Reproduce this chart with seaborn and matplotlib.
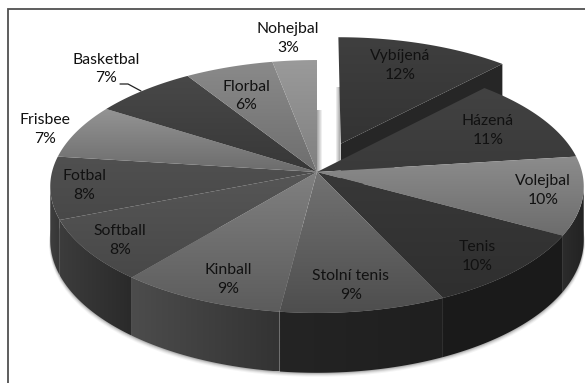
import numpy as np
import matplotlib
matplotlib.use("Agg")
import matplotlib.pyplot as plt
from matplotlib.path import Path
from matplotlib.patches import PathPatch
from matplotlib.colors import to_rgb
import seaborn as sns

# --- data ---
sports = ["Vybíjená", "Házená", "Volejbal", "Tenis", "Stolní tenis", "Kinball",
          "Softball", "Fotbal", "Frisbee", "Basketbal", "Florbal", "Nohejbal"]
shares = [12, 11, 10, 10, 9, 9, 8, 8, 7, 7, 6, 3]

# --- styles ---
top_from = ["#3f3f3f", "#424242", "#8c8c8c", "#383838", "#727272", "#808080",
            "#565656", "#505050", "#949494", "#484848", "#8a8a8a", "#9a9a9a"]
top_to = ["#333333", "#3a3a3a", "#6c6c6c", "#2f2f2f", "#4e4e4e", "#5c5c5c",
          "#484848", "#484848", "#6c6c6c", "#383838", "#6e6e6e", "#808080"]
wall_from = ["#242424", "#262626", "#2c2c2c", "#1b1b1b", "#242424", "#4c4c4c",
             "#3c3c3c", "#3e3e3e", "#555555", "#333333", "#555555", "#666666"]
wall_to = ["#242424", "#1e1e1e", "#222222", "#1a1a1a", "#1f1f1f", "#333333",
           "#2a2a2a", "#363636", "#555555", "#333333", "#555555", "#666666"]
label_xy = [(400, 65.5), (488, 130.5), (543, 190.5), (477, 256.5), (351, 285.5), (228, 279.5),
            (120, 240.5), (84, 185.5), (45, 129.5), (106, 69), (246, 96), (288, 38.5)]

CX, CY, B, A, K, H, EXPLODE = 317.0, 172.0, 265.0, 124.8, 0.1146, 53.0, 0.25

sns.set_theme(style="white")
plt.rcParams["font.family"] = ["Lato", "DejaVu Sans"]

fig = plt.figure(figsize=(5.85, 3.83), dpi=100, facecolor="white")
ax = fig.add_axes([0, 0, 1, 1])
ax.set_axis_off()


def proj(X, Y, Z=0.0):
    d = 1 + K * Y
    return np.column_stack([CX + B * X / d, CY - A * Y / d + H * Z / d])


def gradient(poly, c0, c1, horizontal=False, z=2):
    poly = np.asarray(poly)
    x0, y0 = poly.min(axis=0)
    x1, y1 = poly.max(axis=0)
    t = np.linspace(0, 1, 64)
    rgb = np.outer(1 - t, to_rgb(c0)) + np.outer(t, to_rgb(c1))
    img = rgb[None, :, :] if horizontal else rgb[:, None, :]
    im = ax.imshow(img, extent=(x0, x1, y1, y0), aspect="auto", zorder=z,
                   interpolation="bilinear", origin="upper")
    patch = PathPatch(Path(np.vstack([poly, poly[:1]])), transform=ax.transData,
                      fc="none", ec="none")
    ax.add_patch(patch)
    im.set_clip_path(patch)


edges = np.cumsum([0] + shares) / sum(shares) * 2 * np.pi
tangent = np.arcsin(K)
wall_a, wall_b = np.pi / 2 + tangent, 3 * np.pi / 2 - tangent


def rim(p0, p1, ox=0.0, oy=0.0, Z=0.0, n=50):
    t = np.linspace(p0, p1, n)
    return proj(np.sin(t) + ox, np.cos(t) + oy, Z)


# soft shadow below the pie
for grow, alpha in [(4.0, 0.08), (3.0, 0.12), (2.0, 0.2), (1.0, 0.3)]:
    lo = rim(wall_a - 0.1, wall_b + 0.1, Z=1.0)
    lo[:, 1] += grow
    lo[:, 0] += np.sign(lo[:, 0] - CX) * grow * 0.3
    ax.fill(lo[:, 0], lo[:, 1], color="#777777", alpha=alpha, lw=0, zorder=1)

# exploded first slice
mid = (edges[0] + edges[1]) / 2
ox, oy = EXPLODE * np.sin(mid), EXPLODE * np.cos(mid)
apex_top = proj(np.array([ox]), np.array([oy]))
apex_low = proj(np.array([ox]), np.array([oy]), 1.0)
# pale cast shadows in the gap
gradient(np.array([[336, 87], [340, 87], [340, 163], [336, 163]], dtype=float),
         "#f4f4f4", "#a8a8a8", horizontal=True, z=1)
gradient(np.array([[317, 110], [322, 110], [322, 172], [317, 172]], dtype=float),
         "#a0a0a0", "#f8f8f8", horizontal=True, z=1)
end_top = rim(edges[1], edges[1], ox, oy, n=1)
end_low = rim(edges[1], edges[1], ox, oy, 1.0, n=1)
ax.fill(*np.vstack([apex_top, end_top, end_low, apex_low]).T, color="#262626", lw=0, zorder=2)
gradient(np.vstack([apex_top, rim(edges[0], edges[1], ox, oy)]), top_from[0], top_to[0], z=3)

# ring of the remaining slices: walls, then the top faces
for i in range(1, len(shares)):
    p0, p1 = max(edges[i], wall_a), min(edges[i + 1], wall_b)
    if p1 > p0:
        poly = np.vstack([rim(p0, p1), rim(p0, p1, Z=1.0)[::-1]])
        gradient(poly, wall_from[i], wall_to[i], horizontal=True, z=4)

centre = proj(np.array([0.0]), np.array([0.0]))
for i in range(1, len(shares)):
    poly = np.vstack([centre, rim(edges[i], edges[i + 1])])
    gradient(poly, top_from[i], top_to[i], z=5)

# labels
for name, share, (x, y) in zip(sports, shares, label_xy):
    ax.text(x, y, f"{name}\n{share}%", ha="center", va="center", fontsize=11.3,
            color="#111111", linespacing=1.42, zorder=8)

# leader line of the Basketbal label
ax.plot([120, 128, 141], [84, 84, 91], color="#222222", lw=0.9, zorder=8)

# chart frame (open towards the right and the bottom edge)
ax.plot([8, 8, 586], [384, 9, 9], color="#505050", lw=1.3, zorder=9, solid_joinstyle="miter")

ax.set_xlim(0, 585)
ax.set_ylim(383, 0)
fig.savefig("out.png", dpi=100, facecolor="white")
